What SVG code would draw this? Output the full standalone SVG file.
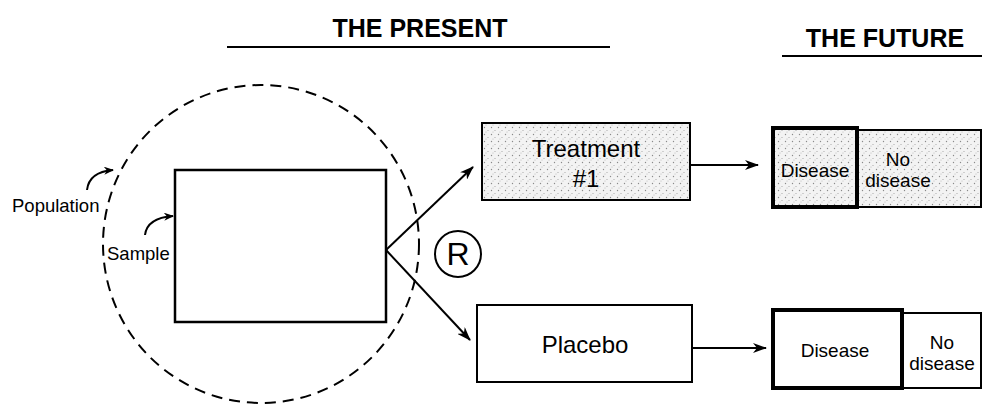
<svg xmlns="http://www.w3.org/2000/svg" width="982" height="406" viewBox="0 0 982 406">
<defs>
<style>
.t{font-family:"Liberation Sans",Arial,sans-serif;fill:#000}
.title{font-weight:bold;font-size:25px;text-anchor:middle}
.lbl{font-size:18.5px}
.box{fill:#fff;stroke:#000;stroke-width:2}
.stip{fill:url(#stipple);stroke:#000;stroke-width:2}
.thick{stroke-width:4}
.ln{fill:none;stroke:#000;stroke-width:2}
.c{text-anchor:middle}
</style>
<pattern id="stipple" width="7" height="7" patternUnits="userSpaceOnUse">
<rect width="7" height="7" fill="#f3f3f3"/>
<circle cx="1.5" cy="1.5" r="0.7" fill="#8a8a8a"/>
<circle cx="5" cy="4.5" r="0.6" fill="#a0a0a0"/>
<circle cx="3" cy="6" r="0.5" fill="#b0b0b0"/>
</pattern>
<marker id="ah" viewBox="0 0 14 10" refX="13" refY="5" markerWidth="14" markerHeight="10" markerUnits="userSpaceOnUse" orient="auto">
<path d="M0,0 L14,5 L0,10 L4,5 z" fill="#000"/>
</marker>
<marker id="ahs" viewBox="0 0 10 8" refX="9" refY="4" markerWidth="10" markerHeight="8" markerUnits="userSpaceOnUse" orient="auto">
<path d="M0,0 L10,4 L0,8 L3,4 z" fill="#000"/>
</marker>
</defs>
<rect width="982" height="406" fill="#fff"/>

<g id="title-present">
<text class="t title" x="420" y="37">THE PRESENT</text>
<line x1="227" y1="47" x2="610" y2="47" stroke="#000" stroke-width="2"/>
</g>
<g id="title-future">
<text class="t title" x="885" y="47">THE FUTURE</text>
<line x1="782" y1="56" x2="982" y2="56" stroke="#000" stroke-width="2"/>
</g>

<g id="population">
<ellipse cx="261" cy="244" rx="158" ry="159" fill="none" stroke="#000" stroke-width="2" stroke-dasharray="11,7"/>
<text class="t lbl" x="12" y="212">Population</text>
</g>

<g id="sample">
<rect x="175" y="170" width="211" height="152" fill="none" stroke="#000" stroke-width="2.5"/>
<text class="t lbl" x="107" y="260">Sample</text>
</g>

<g id="randomize">
<circle cx="458" cy="254" r="23" fill="none" stroke="#000" stroke-width="2"/>
<text class="t c" x="458" y="265" font-size="32">R</text>
</g>

<g id="treatment">
<rect class="stip" x="482" y="123" width="208" height="77"/>
<text class="t c" x="586" y="157" font-size="24">Treatment</text>
<text class="t c" x="586" y="187" font-size="24">#1</text>
</g>

<g id="placebo">
<rect class="box" x="477" y="305" width="215" height="77"/>
<text class="t c" x="585" y="353" font-size="24">Placebo</text>
</g>

<g id="treat-nodisease">
<rect class="stip" x="857" y="130" width="124" height="77"/>
<text class="t c" x="898" y="166" font-size="19">No</text>
<text class="t c" x="898" y="187" font-size="19">disease</text>
</g>
<g id="treat-disease">
<rect class="stip thick" x="773" y="128" width="84" height="79"/>
<text class="t c" x="815" y="177" font-size="19">Disease</text>
</g>

<g id="placebo-nodisease">
<rect class="box" x="902" y="313" width="79" height="75"/>
<text class="t c" x="942" y="349" font-size="19">No</text>
<text class="t c" x="942" y="370" font-size="19">disease</text>
</g>
<g id="placebo-disease">
<rect class="box thick" x="773" y="310" width="129" height="78"/>
<text class="t c" x="835" y="357" font-size="19">Disease</text>
</g>

<g id="connectors">
<path class="ln" d="M386,250 L473,167" marker-end="url(#ah)"/>
<path class="ln" d="M386,250 L470,340" marker-end="url(#ah)"/>
<path class="ln" d="M690,165 L758,165" marker-end="url(#ah)"/>
<path class="ln" d="M692,348 L766,348" marker-end="url(#ah)"/>
<path class="ln" d="M87,190 Q89,172 113,170" marker-end="url(#ahs)"/>
<path class="ln" d="M145,235 Q147,218 173,216" marker-end="url(#ahs)"/>
</g>
</svg>
